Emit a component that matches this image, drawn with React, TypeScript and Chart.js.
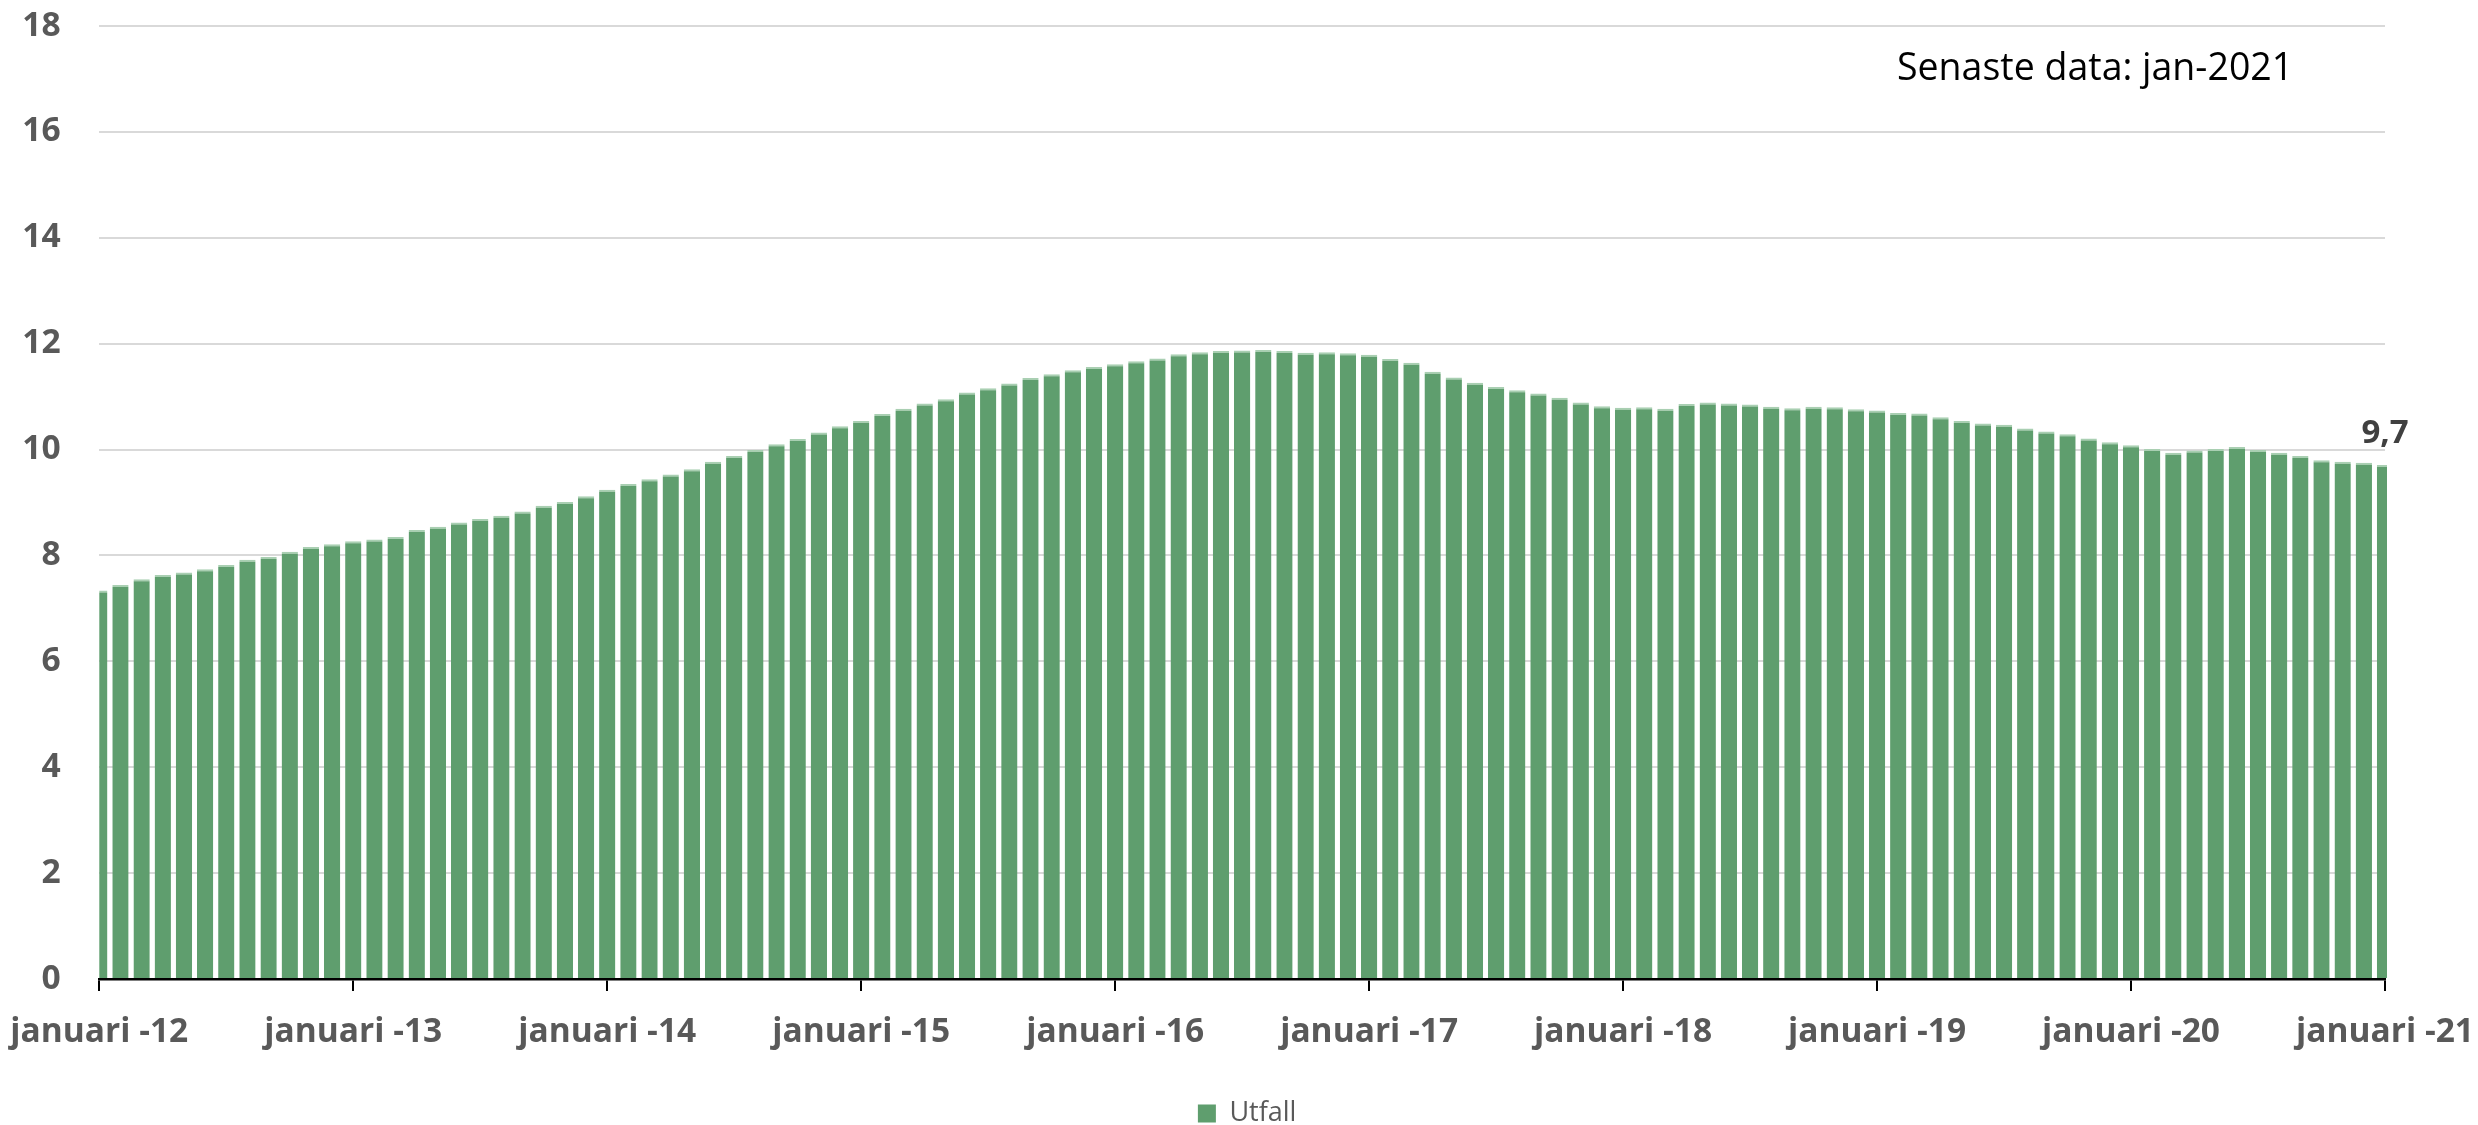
import React, { useEffect, useRef } from 'react';
import { Chart, registerables } from 'chart.js';

Chart.register(...registerables);

// Categories: monthly, Jan 2012 .. Jan 2021
const monthNames = ['jan', 'feb', 'mar', 'apr', 'maj', 'jun', 'jul', 'aug', 'sep', 'okt', 'nov', 'dec'];
const years = ['12', '13', '14', '15', '16', '17', '18', '19', '20', '21'];
const categories: string[] = [];
years.forEach((y) => monthNames.forEach((m) => categories.push(`${m}-${y}`)));
categories.splice(109);

const tickLabels = [
  'januari -12', 'januari -13', 'januari -14', 'januari -15', 'januari -16',
  'januari -17', 'januari -18', 'januari -19', 'januari -20', 'januari -21',
];

const seriesName = 'Utfall';

const utfall2012 = [7.34, 7.44, 7.55, 7.63, 7.68, 7.74, 7.82, 7.92, 7.97, 8.07, 8.16, 8.21];
const utfall2013 = [8.27, 8.30, 8.35, 8.48, 8.54, 8.62, 8.69, 8.75, 8.83, 8.94, 9.01, 9.12];
const utfall2014 = [9.24, 9.35, 9.44, 9.53, 9.63, 9.77, 9.88, 9.99, 10.10, 10.20, 10.32, 10.44];
const utfall2015 = [10.54, 10.67, 10.77, 10.87, 10.95, 11.08, 11.16, 11.25, 11.35, 11.42, 11.50, 11.56];
const utfall2016 = [11.61, 11.67, 11.72, 11.80, 11.84, 11.86, 11.87, 11.88, 11.86, 11.83, 11.84, 11.82];
const utfall2017 = [11.79, 11.71, 11.64, 11.47, 11.36, 11.26, 11.18, 11.12, 11.06, 10.98, 10.89, 10.82];
const utfall2018 = [10.79, 10.80, 10.77, 10.86, 10.89, 10.87, 10.85, 10.81, 10.78, 10.81, 10.80, 10.76];
const utfall2019 = [10.74, 10.69, 10.68, 10.61, 10.54, 10.49, 10.47, 10.40, 10.34, 10.29, 10.21, 10.14];
const utfall2020 = [10.08, 10.01, 9.94, 9.98, 10.01, 10.05, 9.99, 9.94, 9.88, 9.80, 9.77, 9.75];
const utfall2021 = [9.71];

const utfall = [
  ...utfall2012, ...utfall2013, ...utfall2014, ...utfall2015, ...utfall2016,
  ...utfall2017, ...utfall2018, ...utfall2019, ...utfall2020, ...utfall2021,
];

const noteText = 'Senaste data: jan-2021';

const BAR_COLOR = '#5F9E6E';
const TICK_COLOR = '#595959';

const overlayPlugin = {
  id: 'overlayTexts',
  afterLayout(chart: any) {
    if (chart.legend) {
      chart.legend.left += 5;
      chart.legend.right += 5;
    }
  },
  afterDatasetsDraw(chart: any) {
    const ctx = chart.ctx;
    const meta = chart.getDatasetMeta(0);
    const last = meta.data[meta.data.length - 1];
    const v = utfall[utfall.length - 1];
    ctx.save();
    ctx.font = 'bold 33px "Open Sans"';
    ctx.fillStyle = '#404040';
    ctx.textAlign = 'center';
    ctx.textBaseline = 'alphabetic';
    ctx.fillText(v.toFixed(1).replace('.', ','), last.x, last.y - 22);
    ctx.font = '37.5px "Open Sans"';
    ctx.fillStyle = '#000000';
    ctx.textAlign = 'left';
    ctx.fillText(noteText, chart.chartArea.right - 488, 80);
    ctx.restore();
  },
};

export default function App() {
  const canvasRef = useRef<HTMLCanvasElement | null>(null);

  useEffect(() => {
    if (!canvasRef.current) return;
    const chart = new Chart(canvasRef.current, {
      type: 'bar',
      data: {
        labels: categories,
        datasets: [
          {
            label: seriesName,
            data: utfall,
            backgroundColor: BAR_COLOR,
            borderColor: '#A9CFB2',
            borderWidth: { top: 2, left: 0, right: 0, bottom: 0 },
            borderSkipped: 'start',
            categoryPercentage: 1,
            barPercentage: 0.77,
            clip: { left: 0, right: 2, top: 100, bottom: 0 },
          } as any,
        ],
      },
      options: {
        animation: false,
        responsive: true,
        maintainAspectRatio: false,
        devicePixelRatio: 1,
        layout: { padding: { left: 0, right: 93, top: 26, bottom: -12 } },
        plugins: {
          legend: {
            display: true,
            position: 'bottom',
            fullSize: false,
            labels: {
              boxWidth: 18,
              boxHeight: 18,
              padding: 10,
              color: TICK_COLOR,
              font: { family: '"Open Sans"', size: 27 },
              generateLabels: (c: any) =>
                Chart.defaults.plugins.legend.labels.generateLabels(c).map((l: any) => ({
                  ...l,
                  lineWidth: 0,
                  strokeStyle: 'rgba(0,0,0,0)',
                  fillStyle: BAR_COLOR,
                })),
            },
          },
          tooltip: { enabled: false },
        },
        scales: {
          x: {
            type: 'category',
            offset: false,
            grid: {
              offset: false,
              drawOnChartArea: false,
              drawTicks: true,
              tickLength: 12,
              lineWidth: 2,
              color: '#000000',
            },
            border: { display: true, color: '#000000', width: 2.5 },
            ticks: {
              autoSkip: false,
              maxRotation: 0,
              minRotation: 0,
              padding: 21,
              color: TICK_COLOR,
              font: { family: '"Open Sans"', size: 33.5, weight: 'bold' },
              callback: (_v: any, i: number) => (i % 12 === 0 ? tickLabels[i / 12] : null),
            },
            afterFit: (s: any) => {
              s.height = 111;
              s.paddingLeft = 0;
              s.paddingRight = 0;
            },
          },
          y: {
            min: 0,
            max: 18,
            grid: { color: '#D9D9D9', lineWidth: 2, drawTicks: false },
            border: { display: false },
            ticks: {
              stepSize: 2,
              padding: 38.6,
              color: TICK_COLOR,
              font: { family: '"Open Sans"', size: 33.6, weight: 'bold' },
            },
            afterFit: (s: any) => {
              s.width = 99.3;
              s.paddingTop = 0;
              s.paddingBottom = 0;
            },
          },
        },
      },
      plugins: [overlayPlugin],
    });
    return () => chart.destroy();
  }, []);

  return (
    <div style={{ position: 'fixed', left: 0, top: 0, width: '2478px', height: '1125px', background: '#fff' }}>
      <canvas ref={canvasRef} />
    </div>
  );
}
